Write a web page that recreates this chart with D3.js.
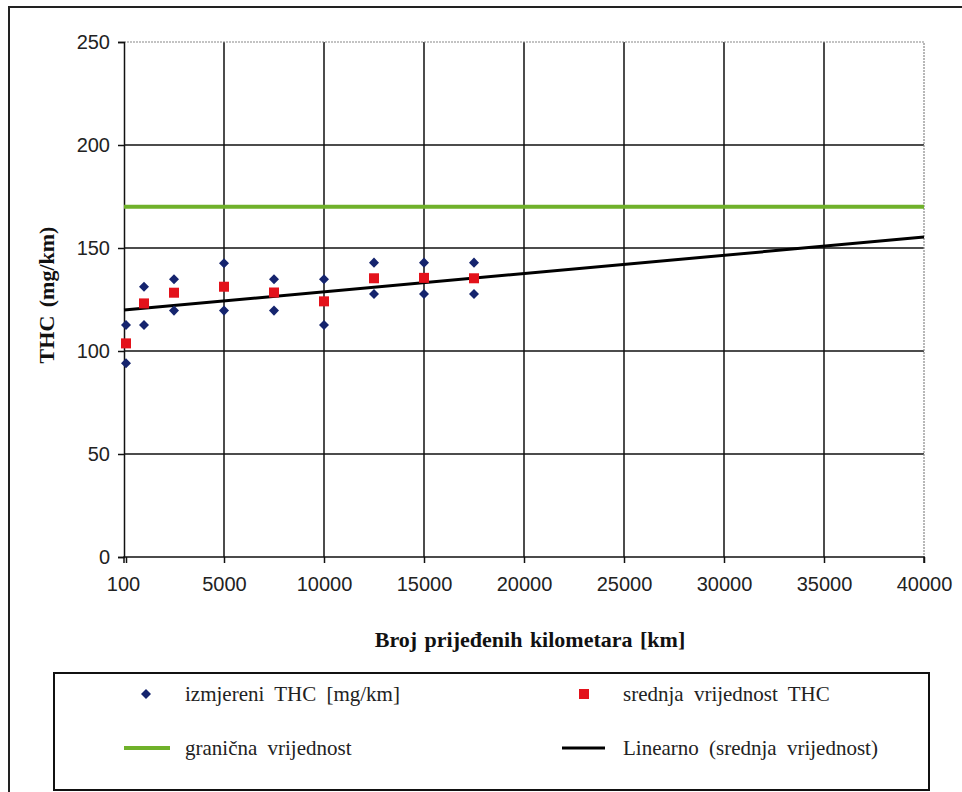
<!DOCTYPE html>
<html><head><meta charset="utf-8">
<script src="https://cdn.jsdelivr.net/npm/d3@7"></script>
<style>body{margin:0;background:#fff}svg{display:block}</style>
</head><body>
<svg id="c" width="962" height="792"></svg>
<script>
// ---- data ----
const xTickValues = [100, 5000, 10000, 15000, 20000, 25000, 30000, 35000, 40000];
const xTickLabels = ["100","5000","10000","15000","20000","25000","30000","35000","40000"];
const yTickValues = [0, 50, 100, 150, 200, 250];
const measuredKm  = [100, 100, 1000, 1000, 2500, 2500, 5000, 5000, 7500, 7500, 10000, 10000, 12500, 12500, 15000, 15000, 17500, 17500];
const measuredTHC = [112.6, 94.0, 131.2, 112.6, 134.8, 119.6, 142.6, 119.6, 134.8, 119.6, 134.8, 112.6, 142.9, 127.7, 142.9, 127.7, 142.9, 127.7];
const meanKm  = [100, 1000, 2500, 5000, 7500, 10000, 12500, 15000, 17500];
const meanTHC = [103.7, 123.1, 128.3, 131.2, 128.4, 124.1, 135.3, 135.5, 135.3];
const limitTHC = [170];
const trendIntercept = [119.9];
const trendSlope = [0.000885];
const trendKm = [0, 40000];
const legendLabels = ["izmjereni THC [mg/km]", "srednja vrijednost THC", "granična vrijednost", "Linearno (srednja vrijednost)"];
const xTitle = "Broj prijeđenih kilometara [km]";
const yTitle = "THC (mg/km)";

// ---- drawing ----
const svg = d3.select("#c");
const x = d3.scaleLinear().domain([0, 40000]).range([124, 924]);
const y = d3.scaleLinear().domain([0, 250]).range([557, 42]);
const serif = "'Liberation Serif','Times New Roman',serif";
const sans = "'Liberation Sans',Arial,sans-serif";

// outer frame
svg.append("rect").attr("x", 9).attr("y", 7).attr("width", 980).attr("height", 800)
  .attr("fill", "none").attr("stroke", "#222").attr("stroke-width", 2);

const g = svg.append("g");
g.selectAll(".hg").data(yTickValues.filter(v => v > 0 && v < 250)).join("line")
  .attr("x1", x(0)).attr("x2", x(40000)).attr("y1", d => y(d)).attr("y2", d => y(d))
  .attr("stroke", "#111").attr("stroke-width", 1.5);
g.selectAll(".vg").data(xTickValues.filter(v => v > 100 && v < 40000)).join("line")
  .attr("x1", d => x(d)).attr("x2", d => x(d)).attr("y1", y(0)).attr("y2", y(250))
  .attr("stroke", "#111").attr("stroke-width", 1.5);
g.append("path").attr("d", `M${x(0)},${y(250)}H${x(40000)}V${y(0)}`)
  .attr("fill", "none").attr("stroke", "#888").attr("stroke-width", 1.2).attr("stroke-dasharray", "2,1");

// axes
const yAxis = d3.axisLeft(y).tickValues(yTickValues).tickSize(6).tickPadding(8);
const ya = svg.append("g").attr("transform", `translate(${x(0)},0)`).call(yAxis);
ya.select(".domain").attr("stroke", "#111").attr("stroke-width", 1.5);
ya.selectAll(".tick line").attr("stroke", "#111").attr("stroke-width", 1.5);
ya.selectAll("text").attr("font-family", sans).attr("font-size", 20).attr("fill", "#222");

const xAxis = d3.axisBottom(x).tickValues(xTickValues).tickFormat((d, i) => xTickLabels[i]).tickSize(6).tickPadding(14);
const xa = svg.append("g").attr("transform", `translate(0,${y(0)})`).call(xAxis);
xa.select(".domain").attr("stroke", "#111").attr("stroke-width", 1.5).attr("d", `M${x(0)},6V0H${x(40000)}V6`);
xa.selectAll(".tick line").attr("stroke", "#111").attr("stroke-width", 1.5);
xa.selectAll("text").attr("font-family", sans).attr("font-size", 20).attr("fill", "#222");
xa.selectAll(".tick").filter((d,i)=>i===0).select("text").attr("dx", -3);

// limit line
svg.selectAll(".lim").data(limitTHC).join("line")
  .attr("x1", x(0)).attr("x2", x(40000)).attr("y1", d => y(d)).attr("y2", d => y(d))
  .attr("stroke", "#6fb12a").attr("stroke-width", 4);

// trend line
const line = d3.line().x(d => x(d)).y(d => y(trendIntercept[0] + trendSlope[0] * d));
svg.append("path").datum(trendKm).attr("d", line).attr("fill", "none")
  .attr("stroke", "#000").attr("stroke-width", 3);

// measured diamonds
const diamond = d3.symbol().type(d3.symbolDiamond2).size(64);
svg.selectAll(".dm").data(measuredKm.map((k, i) => [k, measuredTHC[i]])).join("path")
  .attr("d", diamond).attr("transform", d => `translate(${x(d[0])},${y(d[1])})`)
  .attr("fill", "#15246e");
// mean squares
svg.selectAll(".sq").data(meanKm.map((k, i) => [k, meanTHC[i]])).join("rect")
  .attr("x", d => x(d[0]) - 5).attr("y", d => y(d[1]) - 5).attr("width", 10).attr("height", 10)
  .attr("fill", "#e3121b");

// titles
svg.append("text").attr("x", 530).attr("y", 647).attr("text-anchor", "middle")
  .attr("font-family", serif).attr("font-weight", "bold").attr("font-size", 22).attr("word-spacing", 2).attr("fill", "#111")
  .text(xTitle);
svg.append("text").attr("transform", "translate(54,295) rotate(-90)").attr("text-anchor", "middle")
  .attr("font-family", serif).attr("font-weight", "bold").attr("font-size", 22).attr("word-spacing", 3).attr("fill", "#111")
  .text(yTitle);

// legend
svg.append("rect").attr("x", 54).attr("y", 673).attr("width", 875).attr("height", 117)
  .attr("fill", "#fff").attr("stroke", "#111").attr("stroke-width", 2);
const lg = svg.append("g").attr("font-family", serif).attr("font-size", 21).attr("word-spacing", 5).attr("fill", "#222");
lg.append("path").attr("d", d3.symbol().type(d3.symbolDiamond2).size(64)).attr("transform", "translate(146,694)").attr("fill", "#15246e");
lg.append("rect").attr("x", 579).attr("y", 689).attr("width", 10).attr("height", 10).attr("fill", "#e3121b");
lg.append("line").attr("x1", 124).attr("x2", 170).attr("y1", 748).attr("y2", 748).attr("stroke", "#6fb12a").attr("stroke-width", 4);
lg.append("line").attr("x1", 562).attr("x2", 605).attr("y1", 748).attr("y2", 748).attr("stroke", "#000").attr("stroke-width", 3);
const pos = [[185, 694], [623, 694], [185, 748], [623, 748]];
lg.selectAll("text").data(legendLabels).join("text")
  .attr("x", (d, i) => pos[i][0]).attr("y", (d, i) => pos[i][1]).attr("dy", "0.33em")
  .text(d => d);
</script>
</body></html>
